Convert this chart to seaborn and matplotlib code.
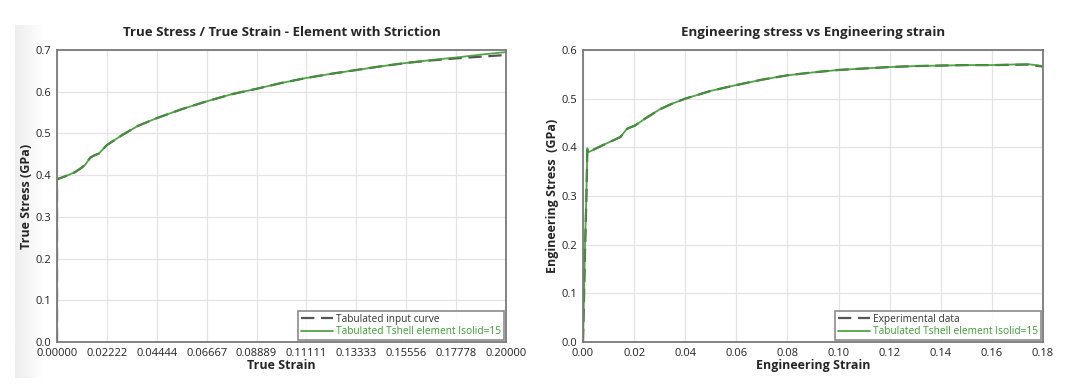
import numpy as np
import pandas as pd
import matplotlib
matplotlib.use("Agg")
import matplotlib.pyplot as plt
import seaborn as sns

# ---------------------------------------------------------------------------
# Data
# ---------------------------------------------------------------------------
true_strain = [0.0, 0.0, 0.004, 0.008, 0.0110, 0.0126, 0.0148, 0.0165, 0.0187,
               0.0222, 0.0293, 0.0360, 0.0446, 0.0555, 0.0667, 0.0778, 0.0889,
               0.1000, 0.1111, 0.1222, 0.1333, 0.1444, 0.1556, 0.1667, 0.1778,
               0.1889, 0.2000]
true_stress_tshell = [0.0, 0.390, 0.398, 0.407, 0.418, 0.425, 0.442, 0.447, 0.452,
                      0.472, 0.497, 0.518, 0.537, 0.558, 0.577, 0.594, 0.607,
                      0.621, 0.633, 0.643, 0.652, 0.661, 0.669, 0.676, 0.682,
                      0.689, 0.695]
true_stress_input = [0.0, 0.390, 0.398, 0.407, 0.418, 0.425, 0.442, 0.447, 0.452,
                     0.472, 0.497, 0.518, 0.537, 0.558, 0.577, 0.594, 0.607,
                     0.621, 0.633, 0.643, 0.652, 0.661, 0.669, 0.675, 0.680,
                     0.684, 0.688]

eng_strain = [0.0, 0.0004, 0.0008, 0.0013, 0.0017, 0.0021, 0.006, 0.010, 0.0146,
              0.0172, 0.0204, 0.0243, 0.030, 0.035, 0.040, 0.050, 0.060, 0.070,
              0.080, 0.090, 0.100, 0.110, 0.120, 0.130, 0.140, 0.150, 0.160,
              0.174, 0.180]
eng_stress_tshell = [0.0, 0.10, 0.20, 0.30, 0.398, 0.390, 0.400, 0.410, 0.421,
                     0.438, 0.445, 0.459, 0.478, 0.490, 0.500, 0.516, 0.528,
                     0.539, 0.548, 0.554, 0.559, 0.562, 0.565, 0.567, 0.568,
                     0.569, 0.569, 0.571, 0.567]
eng_stress_exp = [0.0, 0.09, 0.19, 0.29, 0.395, 0.390, 0.400, 0.410, 0.421,
                  0.438, 0.445, 0.459, 0.478, 0.490, 0.500, 0.516, 0.528,
                  0.539, 0.548, 0.554, 0.559, 0.562, 0.565, 0.567, 0.568,
                  0.569, 0.569, 0.570, 0.566]

true_xticks = [0.0, 0.02222, 0.04444, 0.06667, 0.08889, 0.11111, 0.13333,
               0.15556, 0.17778, 0.2]
true_xlabels = ["0.00000", "0.02222", "0.04444", "0.06667", "0.08889",
                "0.11111", "0.13333", "0.15556", "0.17778", "0.20000"]
true_yticks = [0.0, 0.1, 0.2, 0.3, 0.4, 0.5, 0.6, 0.7]

eng_xticks = [0.0, 0.02, 0.04, 0.06, 0.08, 0.10, 0.12, 0.14, 0.16, 0.18]
eng_xlabels = ["0.00", "0.02", "0.04", "0.06", "0.08", "0.10", "0.12",
               "0.14", "0.16", "0.18"]
eng_yticks = [0.0, 0.1, 0.2, 0.3, 0.4, 0.5, 0.6]

GREEN = "#3f9a35"
GRAY = "#555555"

# ---------------------------------------------------------------------------
# Style
# ---------------------------------------------------------------------------
sns.set_theme(style="whitegrid")
plt.rcParams['font.family'] = ['Open Sans', 'DejaVu Sans']

fig = plt.figure(figsize=(10.78, 3.85), dpi=100)

# faint shaded strip on the left edge of the first panel
bg = fig.add_axes([15 / 1078, 7 / 385, 30 / 1078, 353 / 385], zorder=-5)
grad = np.linspace(0.93, 1.0, 64).reshape(1, -1)
bg.imshow(grad, aspect="auto", cmap="gray", vmin=0, vmax=1,
          extent=[0, 1, 0, 1])
bg.axis("off")

ax1 = fig.add_axes([57 / 1078, 1 - 342 / 385, 449 / 1078, 292 / 385])
ax2 = fig.add_axes([583 / 1078, 1 - 342 / 385, 460 / 1078, 292 / 385])


def draw_panel(ax, x, y_ref, y_sim, ref_label, xticks, xlabels, yticks,
               xlim, ylim, title, xlabel, ylabel):
    df = pd.DataFrame({"x": x, "ref": y_ref, "sim": y_sim})
    sns.lineplot(data=df, x="x", y="ref", ax=ax, sort=False, estimator=None,
                 color=GRAY, linewidth=1.6, label=ref_label)
    ax.lines[-1].set_dashes((6, 3))
    sns.lineplot(data=df, x="x", y="sim", ax=ax, sort=False, estimator=None,
                 color=GREEN, linewidth=1.3, alpha=0.9,
                 label="Tabulated Tshell element Isolid=15")
    ax.set_xlim(*xlim)
    ax.set_ylim(*ylim)
    ax.set_xticks(xticks)
    ax.set_xticklabels(xlabels)
    ax.set_yticks(yticks)
    ax.set_yticklabels([f"{v:.1f}" for v in yticks])
    ax.tick_params(axis="both", labelsize=8, length=3, width=0.8,
                   color="#6e6e6e", pad=1, labelcolor="#222222")
    ax.grid(True, color="#e4e4e4", linewidth=0.9)
    for s in ax.spines.values():
        s.set_linewidth(1.3)
        s.set_color("#7a7a7a")
    ax.set_title(title, fontsize=9.5, fontweight="bold", pad=10)
    ax.set_xlabel(xlabel, fontsize=9, fontweight="bold", labelpad=0)
    ax.set_ylabel(ylabel, fontsize=9, fontweight="bold", labelpad=2)
    leg = ax.legend(loc="lower right", fontsize=7.3, frameon=True, fancybox=False,
                    borderpad=0.3, labelspacing=0.15, handlelength=3.2,
                    handletextpad=0.3, borderaxespad=0.15)
    leg.get_frame().set_edgecolor("#6e6e6e")
    leg.get_frame().set_linewidth(1.2)
    texts = leg.get_texts()
    texts[0].set_color("#333333")
    texts[1].set_color(GREEN)


draw_panel(ax1, true_strain, true_stress_input, true_stress_tshell,
           "Tabulated input curve", true_xticks, true_xlabels, true_yticks,
           (0, 0.2), (0, 0.7),
           "True Stress / True Strain - Element with Striction",
           "True Strain", "True Stress (GPa)")

draw_panel(ax2, eng_strain, eng_stress_exp, eng_stress_tshell,
           "Experimental data", eng_xticks, eng_xlabels, eng_yticks,
           (0, 0.18), (0, 0.6),
           "Engineering stress vs Engineering strain",
           "Engineering Strain", "Engineering Stress  (GPa)")

plt.savefig("out.png", dpi=100)
plt.close()
